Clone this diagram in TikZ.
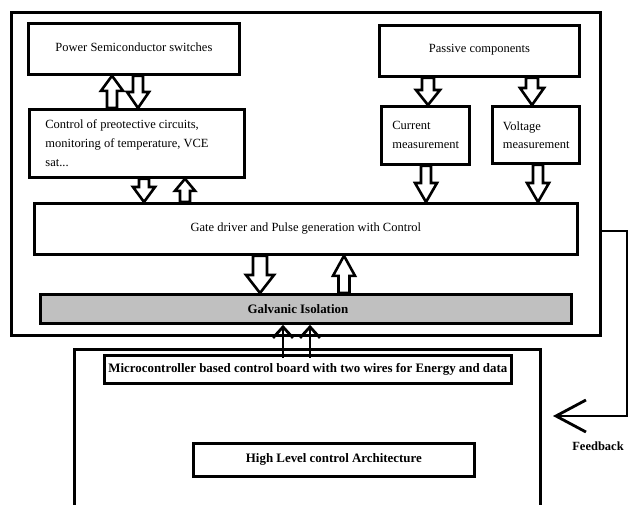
\documentclass[tikz,border=0pt]{standalone}
\usepackage{fontspec}
\setmainfont{Liberation Serif}
\usetikzlibrary{calc,arrows.meta}
\tikzset{
  box/.style={draw, line width=2.8pt, fill=white, inner sep=0pt, anchor=north west,
    font=\fontsize{12.5}{19}\selectfont},
  boldbox/.style={box, font=\fontsize{12.9}{15}\selectfont\bfseries},
  barr/.style={draw, line width=2.6pt, fill=white, line join=miter},
  wire/.style={line width=2.8pt},
}
% #1 start, #2 tip, #3 shaft half width, #4 head half width, #5 head length
\newcommand\blockarrow[5]{%
  \path (#1) coordinate (ba-s) (#2) coordinate (ba-t);
  \path ($(ba-t)!#5pt!(ba-s)$) coordinate (ba-h);
  \draw[barr] ($(ba-s)!#3pt!90:(ba-t)$) -- ($(ba-h)!#3pt!-90:(ba-s)$)
    -- ($(ba-h)!#4pt!-90:(ba-s)$) -- (ba-t) -- ($(ba-h)!#4pt!90:(ba-s)$)
    -- ($(ba-h)!#3pt!90:(ba-s)$) -- ($(ba-s)!#3pt!-90:(ba-t)$) -- cycle;}
\begin{document}
\begin{tikzpicture}[x=1pt, y=-1pt]
\useasboundingbox (0,0) rectangle (628,504);
\clip (0,0) rectangle (628,504);
\fill[white] (0,0) rectangle (628,504);

% outer power-stage frame
\node[box, minimum width=589pt, minimum height=323pt] (outer) at (10,11) {};

\node[box, minimum width=211pt, minimum height=51pt] (ps) at (27,22) {\raisebox{4pt}{Power Semiconductor switches}};
\node[box, minimum width=200pt, minimum height=51pt] (pc) at (378,24) {\raisebox{4.5pt}{Passive components}};
\node[box, minimum width=215pt, minimum height=68pt, inner xsep=16pt, align=left] (ctl) at (28,108)
  {\raisebox{-3pt}{\parbox{183pt}{\raggedright Control of preotective circuits,\\monitoring of temperature, VCE\\sat...}}};
\node[box, minimum width=88pt, minimum height=58pt, align=left] (cur) at (380,105) {\raisebox{1pt}{\parbox{66pt}{Current\\measurement}}};
\node[box, minimum width=87pt, minimum height=57pt, align=left] (vol) at (491,105) {\raisebox{3.5pt}{\parbox{66pt}{\baselineskip=18pt Voltage\\measurement}}};
\node[box, minimum width=543pt, minimum height=51pt] (gate) at (33,202) {Gate driver and Pulse generation with Control};
\node[boldbox, fill={rgb,255:red,192;green,192;blue,192}, minimum width=531pt, minimum height=29pt] (gal) at (39,293) {\hspace*{-16pt}Galvanic Isolation};

% lower control frame
\node[box, minimum width=466pt, minimum height=170pt] (low) at (73,348) {};
\node[boldbox, minimum width=407pt, minimum height=28pt] (mc) at (103,354) {Microcontroller based control board with two wires for Energy and data};
\node[boldbox, minimum width=281pt, minimum height=33pt] (hl) at (192,442) {High Level control Architecture};
\node[font=\fontsize{12.5}{15}\selectfont\bfseries] (fbl) at (598,446) {Feedback};

% block arrows
\blockarrow{ctl.north -| 112,0}{ps.south -| 112,0}{5}{11}{15}
\blockarrow{ps.south -| 138,0}{ctl.north -| 138,0}{5}{11}{16}
\blockarrow{ctl.south -| 144,0}{gate.north -| 144,0}{5}{11}{15}
\blockarrow{gate.north -| 185,0}{ctl.south -| 185,0}{5}{10}{12}
\blockarrow{pc.south -| 428,0}{cur.north -| 428,0}{6}{12}{15}
\blockarrow{pc.south -| 532,0}{vol.north -| 532,0}{6}{12}{17}
\blockarrow{cur.south -| 426,0}{gate.north -| 426,0}{5}{11}{19}
\blockarrow{vol.south -| 538,0}{gate.north -| 538,0}{5}{11}{19}
\blockarrow{gate.south -| 260,0}{gal.north -| 260,0}{7}{14}{18}
\blockarrow{gal.north -| 344,0}{gate.south -| 344,0}{5.5}{11}{20}

% two wires for energy and data
\draw[wire, -{Straight Barb[length=11pt, width=20pt]}] ($(mc.north -| 283,0)+(0,4)$) -- (gal.south -| 283,0);
\draw[wire, -{Straight Barb[length=11pt, width=20pt]}] ($(mc.north -| 310,0)+(0,4)$) -- (gal.south -| 310,0);

% feedback
\coordinate (fbtip) at (553,416);
\draw[wire, line join=miter, -{Straight Barb[length=30pt, width=32pt]}] (outer.east |- 0,231) -- (627,231) -- (627,416) -- (fbtip);
\end{tikzpicture}
\end{document}
